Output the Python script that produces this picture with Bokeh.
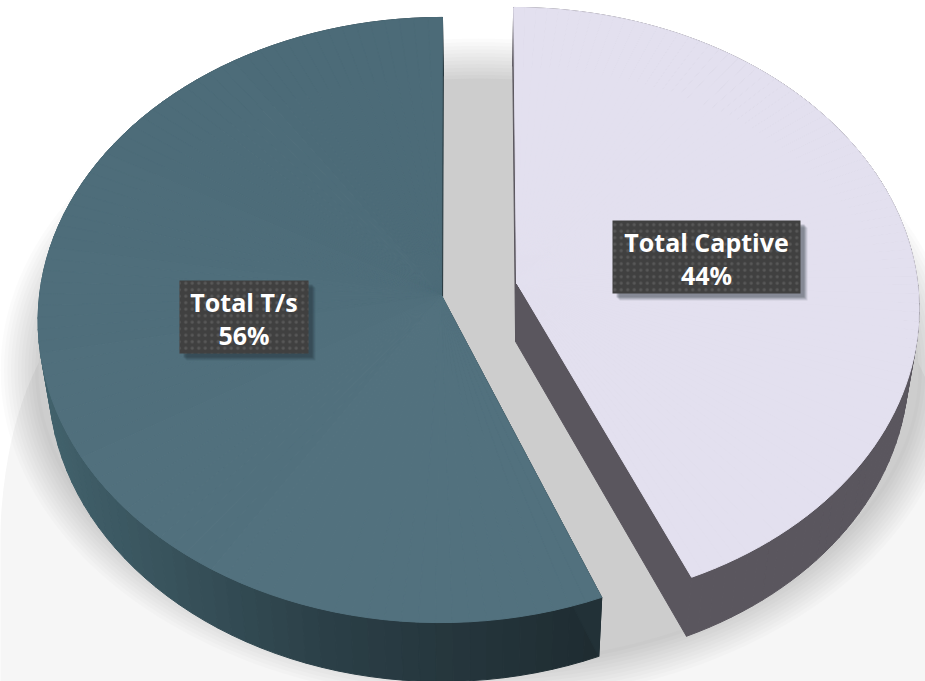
import math
from bokeh.plotting import figure
from bokeh.models import Range1d, ColumnDataSource
from bokeh.core.properties import value
from bokeh.embed import file_html
from bokeh.resources import INLINE

# ---- chart content -------------------------------------------------------
series_names = ["Total T/s", "Total Captive"]
percent_labels = ["56%", "44%"]
# sweep of each slice (percent of the circle)
slice_shares = [56.05, 43.5]
slice_directions = [-1, 1]           # left slice runs anticlockwise from 12 o'clock
top_colors_far = ["#4c6b78", "#e3e0ef"]
top_colors_near = ["#52717e", "#e3e0ef"]
wall_color_stops = [["#42626c", "#2b3f47", "#1e2b30"], ["#5a565e", "#5a565e", "#5a565e"]]

# ---- 3-D view (perspective disc) ------------------------------------------
apex_x = [441.0, 516.0]
apex_y = [295.0, 282.0]
radius_x = [402.0, 401.0]
radius_y = [300.6, 297.3]
vanish_x = [454.0, 478.0]
perspective = 0.081
depth = 59.0
depth_shrink = 0.976
depth_centre = 478.0

box_centres_x = [243.5, 706.0]
box_centres_y = [316.5, 256.5]
box_widths = [129, 188]
box_heights = [73, 73]


def hex2rgb(h):
    return [int(h[i:i + 2], 16) for i in (1, 3, 5)]


def mix(a, b, f):
    ca, cb = hex2rgb(a), hex2rgb(b)
    return "#%02x%02x%02x" % tuple(round(x + (y - x) * f) for x, y in zip(ca, cb))


def ramp(stops, f):
    f = max(0.0, min(1.0, f)) * (len(stops) - 1)
    i = min(int(f), len(stops) - 2)
    return mix(stops[i], stops[i + 1], f - i)


def project(i, u, v):
    w = 1 - perspective * v
    return (vanish_x[i] + (apex_x[i] - vanish_x[i] + radius_x[i] * u) / w,
            apex_y[i] + radius_y[i] * v / w)


def lower(pt):
    return (depth_centre + (pt[0] - depth_centre) * depth_shrink, pt[1] + depth)


def superellipse(cx, cy, rx, ry, p, n=180):
    xs, ys = [], []
    for j in range(n):
        a = 2 * math.pi * j / n
        c, s = math.cos(a), math.sin(a)
        xs.append(cx + rx * math.copysign(abs(c) ** (2 / p), c))
        ys.append(cy + ry * math.copysign(abs(s) ** (2 / p), s))
    return xs, ys


p = figure(width=925, height=681, output_backend="svg", toolbar_location=None,
           x_range=Range1d(0, 925), y_range=Range1d(681, 0),
           min_border=0, outline_line_color=None, background_fill_color="#ffffff",
           border_fill_color="#ffffff")
p.xaxis.visible = False
p.yaxis.visible = False
p.grid.visible = False

# ---- soft floor reflection and shadow --------------------------------------
xs, ys = superellipse(478, 620, 480, 420, 3.0)
p.patch(xs, ys, fill_color="#f6f6f6", line_color=None)
layers = 12
for j in range(layers):
    f = j / (layers - 1)
    xs, ys = superellipse(478, 370, 478 - 38 * f, 332 - 40 * f, 2.0)
    if j < layers - 1:
        p.patch(xs, ys, fill_color="#000000", fill_alpha=0.0175, line_color=None)
    else:
        p.patch(xs, ys, fill_color="#cdcdcd", line_color=None)

# ---- slices ----------------------------------------------------------------
for i in range(2):
    sweep = slice_shares[i] / 100 * 2 * math.pi
    n = 90
    rim = []
    for j in range(n + 1):
        t = slice_directions[i] * sweep * j / n
        rim.append((math.sin(t), -math.cos(t)))
    rim_pts = [project(i, u, v) for u, v in rim]
    centre = project(i, 0, 0)
    outline = [centre] + rim_pts + [centre]

    # wall
    wx, wy, wc = [], [], []
    for a, b in zip(outline[:-1], outline[1:]):
        la, lb = lower(a), lower(b)
        wx.append([a[0], b[0], lb[0], la[0]])
        wy.append([a[1], b[1], lb[1], la[1]])
        wc.append(ramp(wall_color_stops[i], ((a[0] + b[0]) / 2 - 40) / 570))
    p.patches("x", "y", source=ColumnDataSource(dict(x=wx, y=wy, c=wc)),
              fill_color="c", line_color="c", line_width=1)

    # top face, shaded a little from far to near
    fx, fy, fc = [], [], []
    for j in range(n):
        a, b = rim_pts[j], rim_pts[j + 1]
        fx.append([centre[0], a[0], b[0]])
        fy.append([centre[1], a[1], b[1]])
        fc.append(mix(top_colors_far[i], top_colors_near[i], (rim[j][1] + 1) / 2))
    p.patches("x", "y", source=ColumnDataSource(dict(x=fx, y=fy, c=fc)),
              fill_color="c", line_color="c", line_width=1)

# ---- data labels -----------------------------------------------------------
for dx, dy, alpha in [(7, 7, 0.10), (6, 6, 0.12), (5, 5, 0.16), (4, 4, 0.2)]:
    p.rect([x + dx for x in box_centres_x], [y + dy for y in box_centres_y],
           width=box_widths, height=box_heights, fill_color="#1c2a30",
           fill_alpha=alpha, line_color=None)
p.rect(box_centres_x, box_centres_y, width=box_widths, height=box_heights,
       fill_color="#404040", line_color=None, hatch_pattern="dot",
       hatch_color="#585858", hatch_scale=6.5, hatch_alpha=1.0)
p.text(box_centres_x, [y - 15 for y in box_centres_y], text=series_names,
       text_font=value("Open Sans"), text_font_style="bold", text_font_size="25px",
       text_color="#ffffff", text_align="center", text_baseline="middle")
p.text(box_centres_x, [y + 18 for y in box_centres_y], text=percent_labels,
       text_font=value("Open Sans"), text_font_style="bold", text_font_size="25px",
       text_color="#ffffff", text_align="center", text_baseline="middle")

open("out.html", "w").write(file_html(p, INLINE))
